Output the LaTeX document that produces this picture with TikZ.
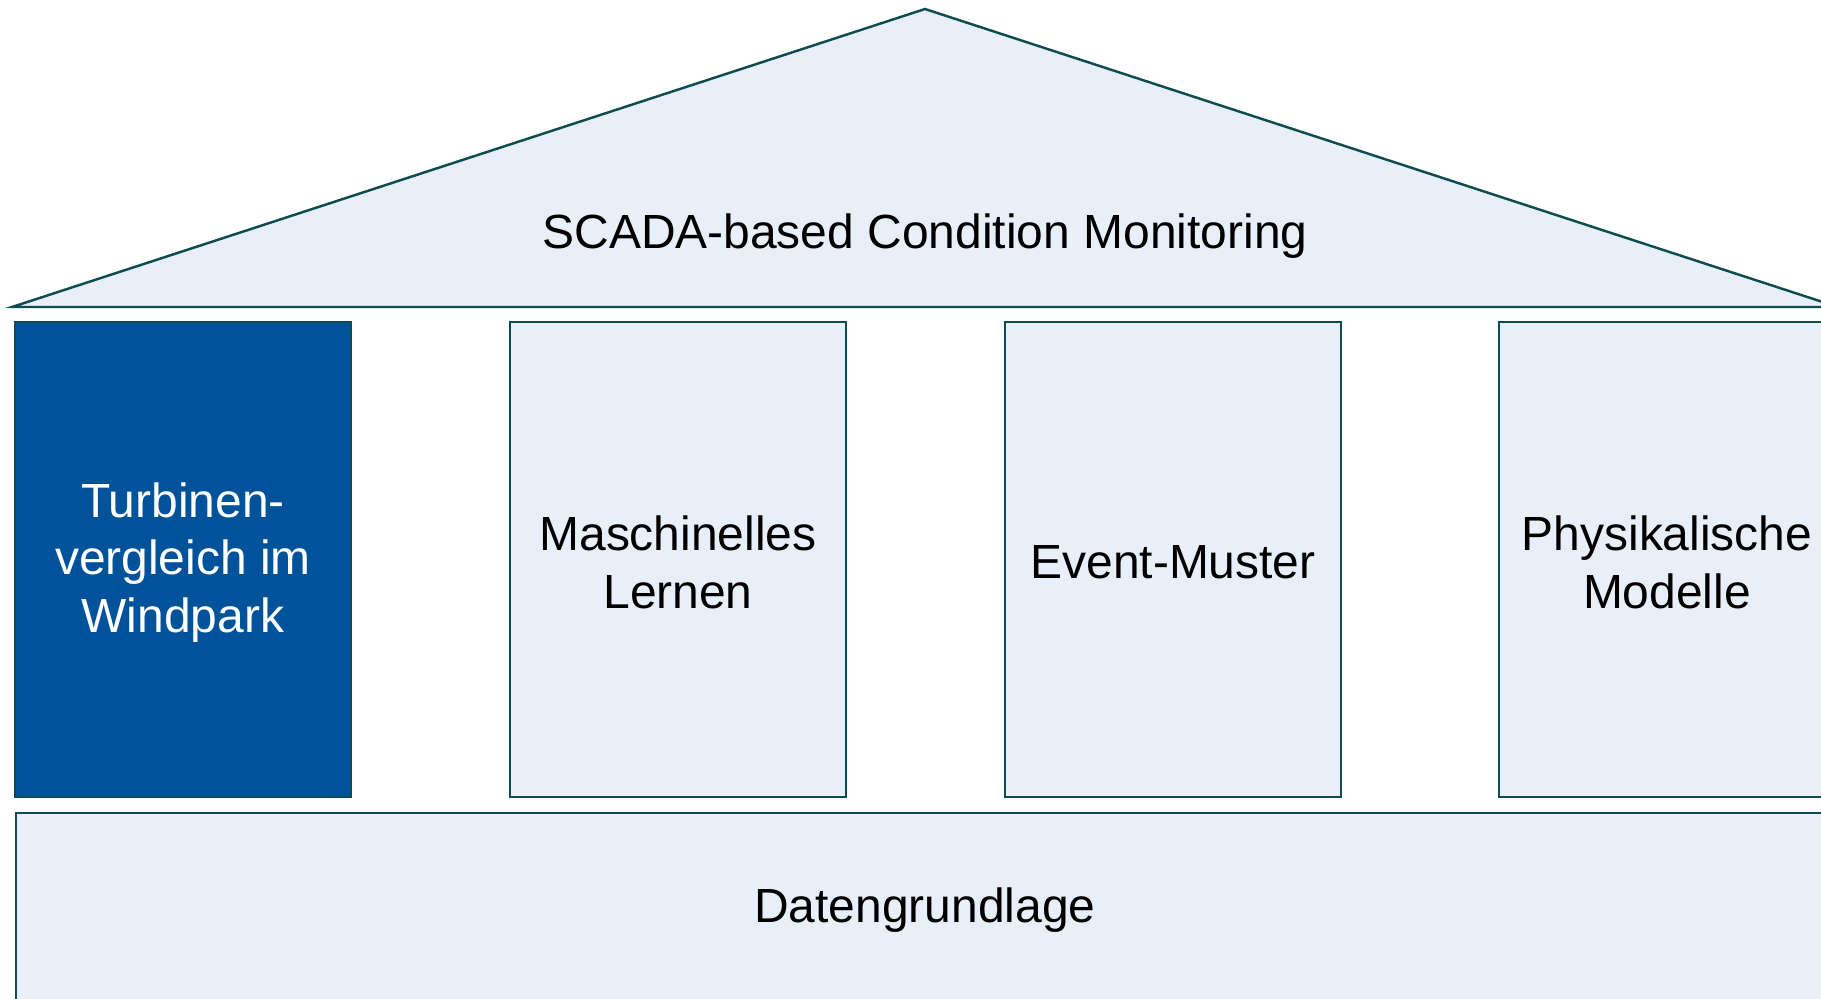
\documentclass[tikz,border=0pt]{standalone}
\usepackage{fontspec}
\setmainfont{Liberation Sans}
\definecolor{hauslinie}{HTML}{0E4C51}
\definecolor{hausfill}{HTML}{E8EFF8}
\definecolor{saeuleblau}{HTML}{00529B}
\newlength{\du}
\setlength{\du}{0.02cm}
\newcommand{\hausfont}{\fontsize{27.3}{32.8}\selectfont}
\tikzset{
  saeule/.style={draw=hauslinie, line width=1.4pt, fill=hausfill, minimum width=336\du, minimum height=475\du, inner sep=0pt},
  aktiv/.style={saeule, fill=saeuleblau},
  hausschrift/.style={font=\hausfont, align=center, inner sep=0pt, yshift=-3\du},
}

\begin{document}
\begin{tikzpicture}[x=\du, y=-\du]
\useasboundingbox (0,0) rectangle (1821,998);
\clip (0,0) rectangle (1821,998);
% Dach
\coordinate (dachL) at (12,307);
\coordinate (dachS) at (925,9);
\coordinate (dachR) at (1838,307);
\draw[hauslinie, line width=1.4pt, fill=hausfill, line join=miter] (dachL) -- (dachS) -- (dachR) -- cycle;
\node[hausschrift] (dach) at (925,233) {SCADA-based Condition Monitoring};
% Saeulen
\node[aktiv] (turbinen) at (183,559.5) {};
\node[saeule] (lernen) at (678,559.5) {};
\node[saeule] (event) at (1173,559.5) {};
\node[saeule] (physik) at (1667,559.5) {};
\node[hausschrift, text=white] at (turbinen.center) {Turbinen-\\vergleich im\\Windpark};
\node[hausschrift] at (lernen.center) {Maschinelles\\Lernen};
\node[hausschrift] at (event.center) {Event-Muster};
\node[hausschrift] at (physik.center) {Physikalische\\Modelle};
% Fundament
\node[saeule, minimum width=1840\du, minimum height=200\du, anchor=north west] (basis) at (15,812) {};
\node[hausschrift] (daten) at (925,907) {Datengrundlage};
\end{tikzpicture}
\end{document}
